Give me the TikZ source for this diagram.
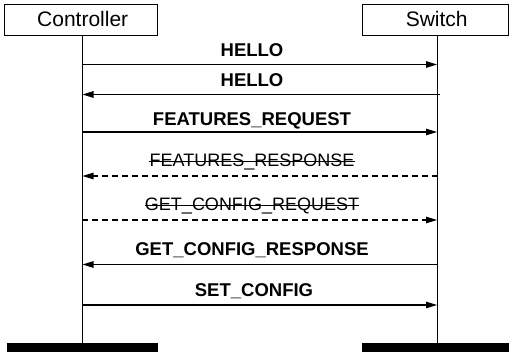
\documentclass[tikz,border=0pt]{standalone}
\usepackage{fontspec}
\setmainfont{Liberation Sans}
\usetikzlibrary{arrows.meta}
\begin{document}
\begin{tikzpicture}[x=1pt,y=-1pt,
  actor/.style={draw,line width=0.9pt,inner sep=0pt},
  actorlbl/.style={anchor=base,inner sep=0pt,font=\fontsize{21}{25}\selectfont},
  bar/.style={fill=black,inner sep=0pt,minimum height=8.7pt},
  life/.style={line width=0.9pt},
  msg/.style={line width=1.1pt,-{Triangle[length=11pt,width=6.5pt]}},
  async/.style={msg,dash pattern=on 6pt off 4pt},
  lbl/.style={anchor=base,inner sep=0pt,font=\fontsize{18.5}{22}\selectfont\bfseries},
  slbl/.style={anchor=base,inner sep=0pt,font=\fontsize{18}{22}\selectfont},
  strike/.style={line width=0.9pt}]
\useasboundingbox (0,0) rectangle (509,356);
% actors
\node[actor,minimum width=152.7pt,minimum height=30.7pt] (ctrl) at (80.65,19.65) {};
\node[actorlbl] (ctrlt) at (82.7,26.7) {Controller};
\node[actor,minimum width=146.2pt,minimum height=30.7pt] (sw) at (435.4,19.65) {};
\node[actorlbl] (swt) at (436.7,26.7) {Switch};
% bottom bars
\node[bar,minimum width=151.3pt] (cbar) at (82.35,347.65) {};
\node[bar,minimum width=147.3pt] (sbar) at (435.35,347.65) {};
% lifelines
\coordinate (ctop) at (82,35);
\coordinate (stop) at (437.3,35);
\draw[life] (ctop) -- (ctop |- cbar.north);
\draw[life] (stop) -- (stop |- sbar.north);
% message endpoints
\foreach \i/\y in {1/64.5,2/94.5,3/132,4/176,5/220,6/264.5,7/305}{
  \coordinate (c\i) at (82,\y);
  \coordinate (s\i) at (437,\y);
}
% messages
\draw[msg] (c1) -- (s1);
\node[lbl] (m1) at (252,56) {HELLO};
\draw[msg] ([xshift=3pt]s2) -- ([xshift=0.5pt]c2);
\node[lbl] (m2) at (252,86) {HELLO};
\draw[msg] (c3) -- (s3);
\node[lbl] (m3) at (252,125) {FEATURES\_REQUEST};
\draw[async] ([xshift=0.5pt]s4) -- ([xshift=0.5pt]c4);
\node[slbl] (m4) at (252,166.5) {FEATURES\_RESPONSE};
\draw[strike] ([yshift=4.6pt]m4.base west) -- ([yshift=4.6pt]m4.base east);
\draw[async] (c5) -- (s5);
\node[slbl] (m5) at (252,210.5) {GET\_CONFIG\_REQUEST};
\draw[strike] ([yshift=4.6pt]m5.base west) -- ([yshift=4.6pt]m5.base east);
\draw[msg] ([xshift=0.5pt]s6) -- ([xshift=0.5pt]c6);
\node[lbl] (m6) at (252,255) {GET\_CONFIG\_RESPONSE};
\draw[msg] (c7) -- (s7);
\node[lbl] (m7) at (254,296) {SET\_CONFIG};
\end{tikzpicture}
\end{document}
